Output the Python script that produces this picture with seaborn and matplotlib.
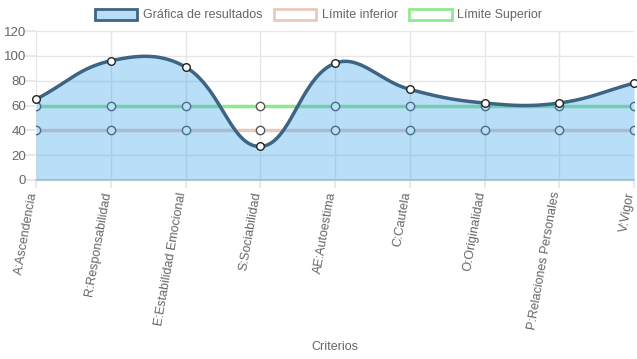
import numpy as np
import matplotlib
matplotlib.use("Agg")
import matplotlib.pyplot as plt
from matplotlib.patches import Patch
import seaborn as sns

sns.set_theme(style="white")
plt.rcParams['font.family'] = ['Liberation Sans', 'DejaVu Sans']

# data
criterios = ['A:Ascendencia', 'R:Responsabilidad', 'E:Estabilidad Emocional',
             'S:Sociabilidad', 'AE:Autoestima', 'C:Cautela', 'O:Originalidad',
             'P:Relaciones Personales', 'V:Vigor']
resultados = [65, 96, 91, 27, 94, 73, 62, 62, 78]
limite_inferior = [40, 40, 40, 40, 40, 40, 40, 40, 40]
limite_superior = [60, 60, 60, 60, 60, 60, 60, 60, 60]

W, H = 637, 359
fig = plt.figure(figsize=(W / 100, H / 100), dpi=100)
x0, x1, y0, y1 = 36, 634, 180, 31  # plot area in pixels
ax = fig.add_axes([x0 / W, 1 - y0 / H, (x1 - x0) / W, (y0 - y1) / H])

xs = np.arange(len(criterios))
ax.set_xlim(0, len(criterios) - 1)
ax.set_ylim(0, 120)

# px per unit, so the spline is built the way chart.js does it (screen space)
sx = (x1 - x0) / (len(criterios) - 1)
sy = (y0 - y1) / 120.0


def chartjs_curve(xv, yv, t=0.4, n=60):
    px = np.asarray(xv, float) * sx
    py = np.asarray(yv, float) * sy
    m = len(px)
    cp_prev = np.zeros((m, 2))
    cp_next = np.zeros((m, 2))
    for i in range(m):
        p = (px[max(i - 1, 0)], py[max(i - 1, 0)])
        c = (px[i], py[i])
        nx = (px[min(i + 1, m - 1)], py[min(i + 1, m - 1)])
        d01 = np.hypot(c[0] - p[0], c[1] - p[1])
        d12 = np.hypot(nx[0] - c[0], nx[1] - c[1])
        s01 = d01 / (d01 + d12) if d01 + d12 else 0
        s12 = d12 / (d01 + d12) if d01 + d12 else 0
        fa, fb = t * s01, t * s12
        cp_prev[i] = (c[0] - fa * (nx[0] - p[0]), c[1] - fa * (nx[1] - p[1]))
        cp_next[i] = (c[0] + fb * (nx[0] - p[0]), c[1] + fb * (nx[1] - p[1]))
    # keep control points inside the chart area
    cp_prev[:, 1] = np.clip(cp_prev[:, 1], 0, 120 * sy)
    cp_next[:, 1] = np.clip(cp_next[:, 1], 0, 120 * sy)
    out_x, out_y = [], []
    u = np.linspace(0, 1, n)
    for i in range(m - 1):
        P0 = np.array([px[i], py[i]])
        P1 = cp_next[i]
        P2 = cp_prev[i + 1]
        P3 = np.array([px[i + 1], py[i + 1]])
        b = ((1 - u) ** 3)[:, None] * P0 + (3 * (1 - u) ** 2 * u)[:, None] * P1 \
            + (3 * (1 - u) * u ** 2)[:, None] * P2 + (u ** 3)[:, None] * P3
        out_x.extend(b[:, 0] / sx)
        out_y.extend(b[:, 1] / sy)
    return np.array(out_x), np.array(out_y)


# grid
ax.set_yticks(range(0, 121, 20))
ax.set_xticks(xs)
ax.grid(True, color='#e6e6e6', linewidth=1)
ax.set_axisbelow(True)
for s in ['top', 'right', 'left']:
    ax.spines[s].set_visible(False)
ax.spines['bottom'].set_color('#d0d0d0')
ax.spines['bottom'].set_linewidth(1.5)

# limit lines (drawn below the results fill, as chart.js does)
sns.lineplot(x=xs, y=limite_inferior, ax=ax, color='#e8cabb', linewidth=2.5,
             marker='o', markersize=6, markerfacecolor='white',
             markeredgecolor='#555555', markeredgewidth=1, zorder=2)
sns.lineplot(x=xs, y=limite_superior, ax=ax, color='#90e890', linewidth=2.5,
             marker='o', markersize=6, markerfacecolor='white',
             markeredgecolor='#555555', markeredgewidth=1, zorder=2)

cx, cy = chartjs_curve(xs, resultados)
ax.fill_between(cx, 0, cy, color=(54 / 255, 162 / 255, 235 / 255, 0.35),
                linewidth=0, zorder=3)
ax.plot(cx, cy, color='#3d6482', linewidth=2.5, zorder=4, solid_capstyle='round')
ax.scatter(xs, resultados, s=30, facecolor='white', edgecolor='#222222',
           linewidth=1, zorder=5, clip_on=False)

ax.set_xticklabels(criterios, rotation=80, ha='right', va='baseline',
                   rotation_mode='anchor')
ax.tick_params(axis='x', length=6, color='#e6e6e6', pad=3,
               labelsize=9, labelcolor='#666666')
ax.tick_params(axis='y', length=8, color='#e6e6e6', pad=-1,
               labelsize=9.5, labelcolor='#666666')
ax.tick_params(bottom=True, left=True)
ax.set_xlabel('')
ax.set_ylabel('')
fig.text((x0 + x1) / 2 / W, 1 - 347 / H, 'Criterios', ha='center', va='center',
         fontsize=9, color='#666666')

handles = [
    Patch(facecolor='#b9dcf7', edgecolor='#3d6482', linewidth=2),
    Patch(facecolor='white', edgecolor='#e8cabb', linewidth=2),
    Patch(facecolor='white', edgecolor='#90e890', linewidth=2),
]
fig.legend(handles, ['Gráfica de resultados', 'Límite inferior', 'Límite Superior'],
           loc='center', bbox_to_anchor=(0.5, 1 - 15 / H), ncol=3, frameon=False,
           handlelength=3.4, handleheight=1.0, handletextpad=0.45,
           columnspacing=0.9, fontsize=9, labelcolor='#666666', borderpad=0)

fig.savefig('out.png', dpi=100)
